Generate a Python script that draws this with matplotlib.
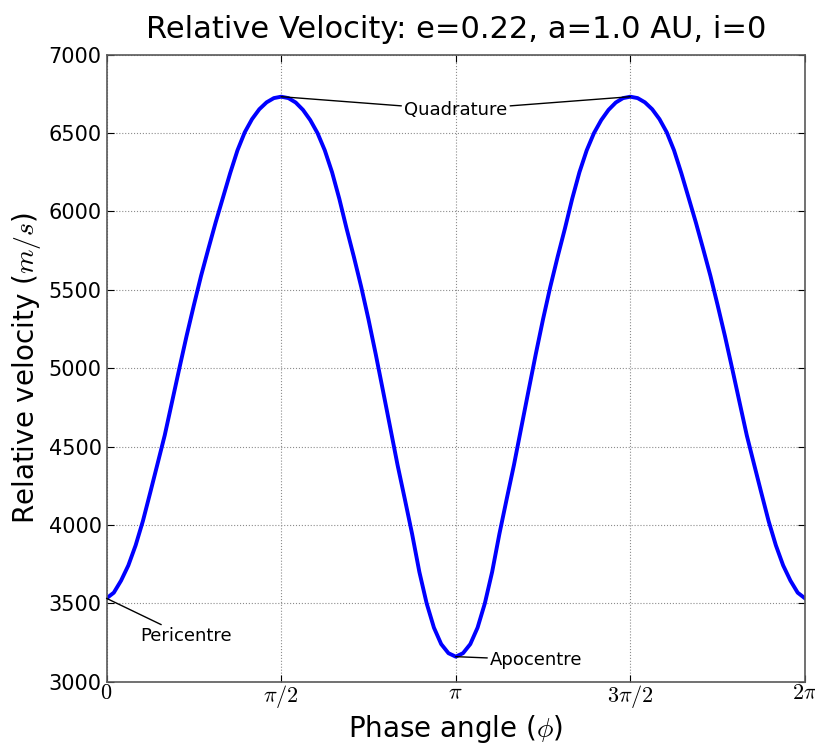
import numpy as np
import matplotlib
matplotlib.use("Agg")
import matplotlib.pyplot as plt

plt.rcParams['mathtext.fontset'] = 'cm'

# phase angle samples, in steps of pi/48 (0 .. 2pi)
phase_steps = list(range(97))
step = np.pi / 48

# relative velocity (m/s), 0 .. pi (curve is mirrored about pi)
vel_first_half = [3532, 3568, 3645, 3742, 3870, 4025, 4205, 4388, 4572, 4784,
                  4997, 5205, 5401, 5590, 5762, 5930, 6088, 6245, 6390, 6505,
                  6589, 6652, 6696, 6723, 6732, 6723, 6695, 6648, 6583, 6500,
                  6390, 6250, 6080, 5890, 5710, 5520, 5313, 5090, 4856, 4620,
                  4383, 4165, 3943, 3700, 3500, 3345, 3240, 3182, 3160]
velocity = vel_first_half + vel_first_half[-2::-1]

xtick_pos = [0, np.pi / 2, np.pi, 3 * np.pi / 2, 2 * np.pi]
xtick_labels = [r'$0$', r'$\pi/2$', r'$\pi$', r'$3\pi/2$', r'$2\pi$']
ytick_pos = list(range(3000, 7001, 500))

phase = np.array(phase_steps) * step

fig = plt.figure(figsize=(8.15, 7.44), dpi=100)
ax = fig.add_axes([0.1307, 0.0837, 0.857, 0.8428])
ax.plot(phase, velocity, color='b', lw=2.8)

ax.set_xlim(0, 2 * np.pi)
ax.set_ylim(3000, 7000)
ax.set_xticks(xtick_pos)
ax.set_xticklabels(xtick_labels, fontsize=16)
ax.set_yticks(ytick_pos)
ax.tick_params(axis='y', labelsize=15)
ax.tick_params(axis='x', pad=1)
ax.tick_params(direction='in', top=True, right=True, length=5, width=0.8)
ax.grid(True, color='0.55', linestyle=':', linewidth=0.8)
for s in ax.spines.values():
    s.set_color('0.35')
    s.set_linewidth(1.2)

ax.set_title('Relative Velocity: e=0.22, a=1.0 AU, i=0', fontsize=22, pad=12)
ax.set_xlabel(r'Phase angle ($\phi$)', fontsize=20, labelpad=2)
ax.set_ylabel(r'Relative velocity ($m/s$)', fontsize=20)

line = dict(arrowstyle='-', color='k', lw=1.0, shrinkA=0, shrinkB=0)
ax.annotate('Quadrature', xy=(np.pi / 2, velocity[24]), xytext=(np.pi, 6647),
            ha='center', va='center', fontsize=13, arrowprops=line)
ax.annotate('Quadrature', xy=(3 * np.pi / 2, velocity[72]), xytext=(np.pi, 6647),
            ha='center', va='center', fontsize=13, color='none', arrowprops=line)
ax.annotate('Pericentre', xy=(0, velocity[0]), xytext=(0.30, 3289),
            ha='left', va='center', fontsize=13, arrowprops=line)
ax.annotate('Apocentre', xy=(np.pi, velocity[48]), xytext=(3.45, 3139),
            ha='left', va='center', fontsize=13, arrowprops=line)

fig.savefig('out.png', dpi=100)
